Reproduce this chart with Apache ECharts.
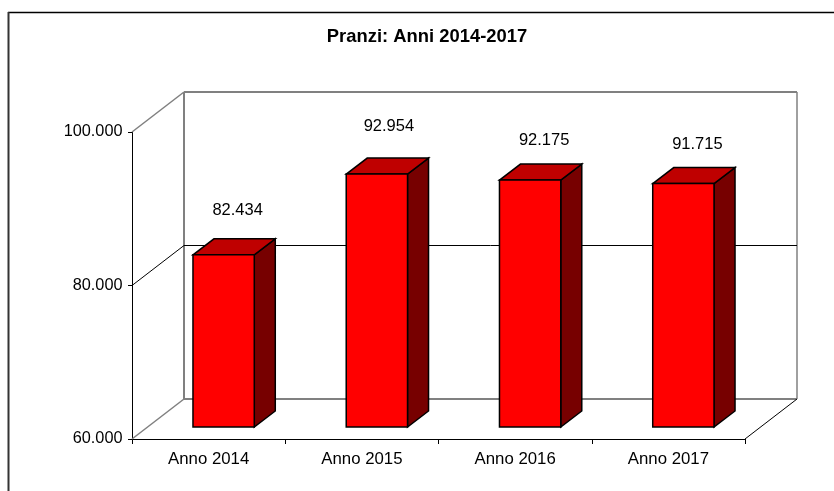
<!DOCTYPE html>
<html>
<head>
<meta charset="utf-8">
<style>
  html, body { margin: 0; padding: 0; background: #fff; }
  #chart { width: 834px; height: 491px; }
</style>
<script src="https://cdn.jsdelivr.net/npm/echarts@6/dist/echarts.min.js"></script>
</head>
<body>
<div id="chart"></div>
<script>
const titleText = 'Pranzi: Anni 2014-2017'
const categories = ['Anno 2014', 'Anno 2015', 'Anno 2016', 'Anno 2017']
const pranzi = [82434, 92954, 92175, 91715]
const yMin = 60000
const yMax = 100000
const yStep = 20000

// fake 3d: how far the back wall and the bars sit behind the axis plane
const wallDx = 52
const wallDy = -40
const barShiftX = 15
const barShiftY = -12
const barDx = 21
const barDy = -16
const labelLift = [44, 48, 40, 39]
const labelShiftX = [29, 27, 29, 29]

const GREY = '#808080'
const fontFamily = '"Liberation Sans", Arial, sans-serif'

const formatThousands = v => String(v).replace(/\B(?=(\d{3})+$)/g, '.')

function line (x1, y1, x2, y2, stroke, lineWidth) {
  return { type: 'line', shape: { x1, y1, x2, y2 }, style: { stroke, lineWidth, fill: null } }
}

function renderWalls (params, api) {
  const c = params.coordSys
  const left = c.x
  const right = c.x + c.width
  const top = c.y
  const bottom = c.y + c.height
  const midY = api.coord([0, yMin + yStep])[1]
  return {
    type: 'group',
    children: [
      line(left, top, left + wallDx, top + wallDy, GREY, 1.5),
      line(left + wallDx, top + wallDy, right + wallDx, top + wallDy, GREY, 2),
      line(left + wallDx, top + wallDy, left + wallDx, bottom + wallDy, GREY, 2),
      line(right + wallDx, top + wallDy, right + wallDx, bottom + wallDy, GREY, 1.5),
      line(left + wallDx, bottom + wallDy, right + wallDx, bottom + wallDy, GREY, 2),
      line(left, bottom, left + wallDx, bottom + wallDy, GREY, 1.5),
      line(right, bottom, right + wallDx, bottom + wallDy, '#000', 1),
      line(left, midY, left + wallDx, midY + wallDy, '#000', 1),
      line(left + wallDx, midY + wallDy, right + wallDx, midY + wallDy, '#000', 1)
    ]
  }
}

function renderBar (params, api) {
  const i = api.value(0)
  const v = api.value(1)
  const topPt = api.coord([i, v])
  const basePt = api.coord([i, yMin])
  const w = api.size([1, 0])[0] * 0.4
  const x0 = topPt[0] - w / 2 + barShiftX
  const x1 = x0 + w
  const yTop = topPt[1] + barShiftY
  const yBase = basePt[1] + barShiftY
  const edge = { stroke: '#000', lineWidth: 1.5, lineJoin: 'miter' }
  return {
    type: 'group',
    children: [
      { type: 'polygon', shape: { points: [[x1, yTop], [x1 + barDx, yTop + barDy], [x1 + barDx, yBase + barDy], [x1, yBase]] }, style: { fill: '#770000', ...edge } },
      { type: 'polygon', shape: { points: [[x0, yTop], [x0 + barDx, yTop + barDy], [x1 + barDx, yTop + barDy], [x1, yTop]] }, style: { fill: '#bf0000', ...edge } },
      { type: 'rect', shape: { x: x0, y: yTop, width: w, height: yBase - yTop }, style: { fill: '#ff0000', ...edge } },
      {
        type: 'text',
        style: {
          x: topPt[0] + labelShiftX[params.dataIndex],
          y: yTop - labelLift[params.dataIndex],
          text: formatThousands(v),
          fill: '#000',
          font: '16.5px ' + fontFamily,
          textAlign: 'center',
          textVerticalAlign: 'middle'
        }
      }
    ]
  }
}

const chart = echarts.init(document.getElementById('chart'), null, { renderer: 'canvas' })

chart.setOption({
  animation: false,
  backgroundColor: '#fff',
  textStyle: { fontFamily },
  title: {
    text: titleText,
    left: 422,
    top: 23,
    textAlign: 'center',
    textStyle: { fontFamily, fontSize: 18.4, fontWeight: 'bold', color: '#000' }
  },
  grid: { left: 132, right: 89, top: 132, bottom: 52 },
  xAxis: {
    type: 'category',
    data: categories,
    axisLine: { onZero: false, lineStyle: { color: '#000', width: 1 } },
    axisTick: { show: true, length: 5, lineStyle: { color: '#000' } },
    axisLabel: { color: '#000', fontSize: 16.8, margin: 12, fontFamily }
  },
  yAxis: {
    type: 'value',
    min: yMin,
    max: yMax,
    interval: yStep,
    splitLine: { show: false },
    axisLine: { show: true, lineStyle: { color: '#000', width: 1 } },
    axisTick: { show: true, length: 4, lineStyle: { color: '#000' } },
    axisLabel: { color: '#000', fontSize: 16.3, margin: 9.5, fontFamily, formatter: formatThousands }
  },
  graphic: [
    { type: 'line', shape: { x1: 8, y1: 12.5, x2: 834, y2: 12.5 }, style: { stroke: '#000', lineWidth: 1.5 } },
    { type: 'line', shape: { x1: 8.5, y1: 12, x2: 8.5, y2: 491 }, style: { stroke: '#333', lineWidth: 2 } }
  ],
  series: [
    { type: 'custom', name: 'walls', silent: true, clip: false, z: 1, renderItem: renderWalls, data: [[0, yMin]] },
    {
      type: 'custom',
      name: 'Pranzi',
      clip: false,
      z: 2,
      renderItem: renderBar,
      encode: { x: 0, y: 1 },
      data: pranzi.map((v, i) => [i, v])
    }
  ]
})
</script>
</body>
</html>
